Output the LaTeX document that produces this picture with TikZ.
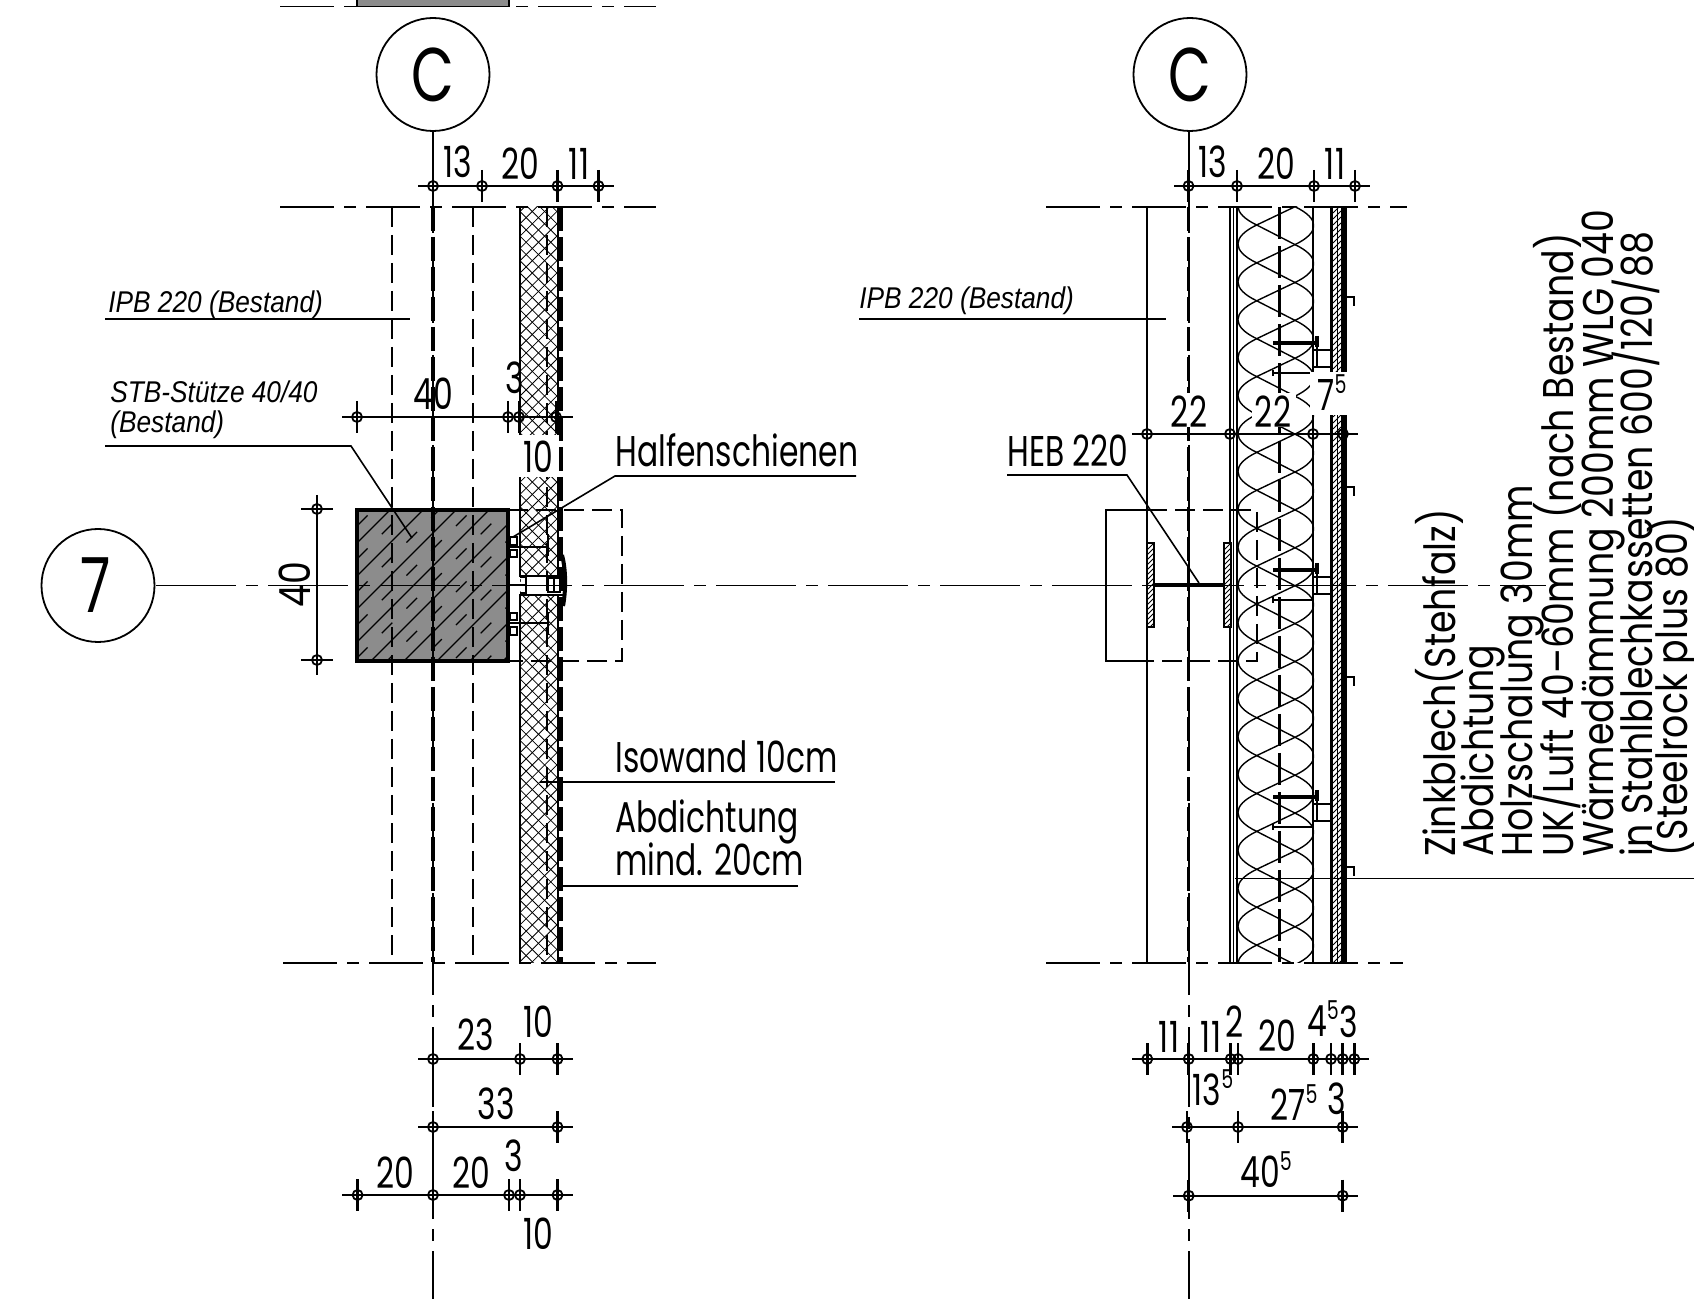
\documentclass[tikz,border=0pt]{standalone}
\usepackage{fontspec}
\newfontfamily\cadfont[FakeStretch=0.73]{Poppins}
\newfontfamily\sidefont[FakeStretch=0.845]{Poppins}
\newfontfamily\noteFont[FakeStretch=0.875,ItalicFont={Liberation Sans Italic}]{Liberation Sans}
\newcommand{\hoch}[1]{\raisebox{8.5pt}{\fontsize{13}{13}\selectfont #1}}
\newcommand{\dimrow}[4]{%
	\draw[dimline] (#1,#4) -- (#2,#4);
	\foreach \x in {#3} {
		\draw[dimtick] (\x,#4) ++(0,-16) -- ++(0,32);
		\draw[dimline] (\x,#4) circle (2.5pt) ++(-5,0) -- ++(10,0);
	}}
\tikzset{
	thinline/.style={line width=.8pt},
	dimline/.style={line width=.9pt},
	dimtick/.style={line width=1.3pt},
	cutline/.style={line width=.9pt,dash pattern=on 27pt off 5pt on 6pt off 5pt},
	axisline/.style={line width=.8pt,dash pattern=on 40pt off 5pt on 6pt off 5pt},
	hiddenline/.style={line width=.7pt,dash pattern=on 10pt off 4pt},
	heavydash/.style={line width=1.6pt,dash pattern=on 12pt off 3pt},
	label/.style={font=\cadfont\fontsize{21.5}{21}\selectfont,inner sep=0pt},
	note/.style={font=\noteFont\itshape\fontsize{15}{15}\selectfont,inner sep=0pt,align=left},
	sidelabel/.style={font=\sidefont\fontsize{21.5}{21}\selectfont,inner sep=0pt,rotate=90,anchor=base west},
	blank/.style={fill=white,inner sep=0pt},
	marker/.style={circle,draw,line width=.9pt,fill=white,minimum size=56.5pt,inner sep=0pt,font=\cadfont\fontsize{38}{38}\selectfont},
}
\begin{document}
\begin{tikzpicture}[x=.5pt,y=-.5pt]
	\useasboundingbox (0,0) rectangle (1694,1299);
	% top strip
	\draw[fill=black!45,thinline] (357,-5) rectangle (509,6.5);
	\draw[cutline] (280,6.5) -- (656,6.5);
	% concrete column
	\fill[black!45] (357,510) rectangle (508,661);
	\begin{scope}
		\clip (357,510) rectangle (508,661);
		\foreach \k in {0,...,9} {
			\draw[line width=.6pt] (357,510+33*\k) -- ++(320,-320);
			\draw[line width=.6pt,dash pattern=on 7.5pt off 10pt] (357,526+33*\k) -- ++(320,-320);
		}
	\end{scope}
	% left wall
	\begin{scope}
		\clip (520,207) rectangle (558,962);
		\foreach \k in {0,...,72} {
			\draw[line width=.4pt] (520,150+12.3*\k) -- ++(60,60);
			\draw[line width=.4pt] (520,150+12.3*\k) -- ++(60,-60);
		}
	\end{scope}
	\fill[white] (521,576) rectangle (563,594);
	\draw[line width=1.1pt] (520,207) -- (520,576) -- (563,576);
	\draw[line width=1.1pt] (520,962) -- (520,595) -- (563,595);
	\draw[line width=1.1pt] (558,207) -- (558,576) (558,595) -- (558,962);
	\draw[hiddenline] (547,207) -- (547,962);
	\draw[heavydash] (561,207) -- (561,962);
	\node[blank,minimum width=21pt,minimum height=21pt] (gapten) at (538,456) {};
	\node[label] (tenwall) at (538,457) {10};
	% column edges and outline
	\draw[hiddenline] (392,207) -- (392,962);
	\draw[hiddenline] (473,207) -- (473,962);
	\draw[line width=2pt] (357,510) rectangle (508,661);
	\draw[hiddenline] (508,510) -- (622,510) -- (622,661) -- (508,661);
	% anchors left
	\draw[line width=.8pt] (510,537) rectangle (517,545) (510,550) rectangle (517,557);
	\draw[line width=.8pt] (510,613) rectangle (517,620) (510,627) rectangle (517,635);
	\draw[line width=1.3pt] (510,547) -- (548,547);
	\draw[line width=1pt] (510,623) -- (548,623);
	\draw[line width=1.2pt] (548,534) -- (548,556) (548,612) -- (548,635);
	\draw[line width=1pt] (509,585) -- (526,585) (520,577) -- (526,577) -- (526,593) -- (520,593);
	\draw[line width=.8pt] (548,578) rectangle (560,592) (554,578) -- (554,592);
	\draw[line width=2pt] (562,555) .. controls (566,570) and (566,590) .. (563,606);
	% right side: layers
	\draw[line width=1.2pt] (1147,207) -- (1147,962);
	\draw[line width=1.1pt] (1230,207) -- (1230,962);
	\draw[line width=.6pt] (1233.5,207) -- (1233.5,962);
	\draw[line width=.8pt] (1236.7,207) -- (1236.7,962);
	\begin{scope}
		\clip (1238,207) rectangle (1314,962);
		\foreach \k in {-1,...,20} {
			\pgfmathsetmacro\yl{225+37.9*\k}
			\pgfmathsetmacro\yr{206.7+37.9*\k}
			\draw[line width=.7pt] (1256.7,\yl) .. controls (1231.7,\yl+12) and (1231.7,\yl+25.9) .. (1256.7,\yl+37.9);
			\draw[line width=.7pt] (1295,\yr) .. controls (1320,\yr+12) and (1320,\yr+25.9) .. (1295,\yr+37.9);
			\draw[line width=.7pt] (1295,\yr) -- (1256.7,\yl) -- (1295,\yr+37.9);
		}
	\end{scope}
	\draw[line width=.7pt] (1313,207) -- (1313,962);
	\draw[line width=1.5pt,dash pattern=on 16pt off 3.5pt] (1279,207) -- (1279,962);
	% cladding
	\draw[line width=1.2pt] (1331.5,207) -- (1331.5,962);
	\begin{scope}
		\clip (1333,207) rectangle (1341,962);
		\foreach \k in {0,...,130} {
			\draw[line width=.4pt] (1333,207+6*\k) -- ++(8,-8);
		}
	\end{scope}
	\draw[line width=.4pt] (1337,207) -- (1337,962);
	\draw[line width=3pt] (1343.5,207) -- (1343.5,962);
	\foreach \y in {297,487,677,867} {
		\draw[line width=1.4pt] (1346,\y) -- (1354,\y) -- (1354,\y+9);
	}
	\foreach \y in {343,570,797} {
		\draw[line width=1.8pt] (1273,\y) -- (1317,\y);
		\draw[line width=2pt] (1317,\y-7) -- (1317,\y+4);
		\draw[line width=.7pt] (1273,\y+30) -- (1313,\y+30);
		\draw[line width=1pt] (1273,\y+27) -- (1273,\y+33);
		\draw[line width=.9pt] (1314,\y+7) -- (1330,\y+7) (1314,\y+24) -- (1330,\y+24) (1317,\y) -- (1317,\y+24);
	}
	% steel profile
	\draw[line width=.9pt] (1147,510) -- (1106,510) -- (1106,661) -- (1147,661);
	\draw[hiddenline] (1147,510) -- (1257,510) -- (1257,661) -- (1147,661);
	\foreach \x in {1147,1224} {
		\draw[line width=1pt,fill=white] (\x,543) rectangle ++(7,84);
		\begin{scope}
			\clip (\x,543) rectangle ++(7,84);
			\foreach \k in {0,...,16} {
				\draw[line width=.5pt] (\x,550+5*\k) -- ++(8,-8);
			}
		\end{scope}
	}
	\draw[line width=2pt] (1154,585) -- (1224,585);
	% axis lines
	\draw[axisline] (156,585.5) -- (1546,585.5);
	\draw[cutline] (280,207) -- (656,207);
	\draw[cutline] (283,962.6) -- (656,962.6);
	\draw[cutline] (1046,207) -- (1407,207);
	\draw[cutline] (1046,962.6) -- (1403,962.6);
	\draw[heavydash] (433,207) -- (433,962);
	\draw[heavydash] (1188.7,207) -- (1188.7,962);
	\draw[axisline] (433,131) -- (433,1299);
	\draw[axisline] (1188.7,131) -- (1188.7,1299);
	% markers
	\node[marker] (markC) at (433,74.5) {C};
	\node[marker] (markCC) at (1190,74.5) {C};
	\node[marker] (markseven) at (98,585.5) {\kern-2pt 7};
	% notes
	\node[note,anchor=south west] (noteipb) at (108,319) {IPB 220 (Bestand)};
	\draw[thinline] (105,319) -- (409.5,319);
	\node[note,anchor=south west] (noteipbb) at (859,315) {IPB 220 (Bestand)};
	\draw[thinline] (859,319) -- (1166,319);
	\node[note,anchor=base west] (notestb) at (110,403) {STB-Stütze 40/40};
	\node[note,anchor=base west] (notebest) at (110,433) {(Bestand)};
	\draw[thinline] (105,446) -- (351,446) -- (412,538);
	\node[label,anchor=base west] (halfen) at (615,467) {Halfenschienen};
	\draw[thinline] (856,476) -- (615,476) -- (513,537);
	\node[label,anchor=base west] (isowand) at (615,772) {Isowand 10cm};
	\draw[thinline] (835,782) -- (540,782);
	\node[label,anchor=base west] (abdicht) at (615,833) {Abdichtung};
	\node[label,anchor=base west] (mind) at (615,875) {mind. 20cm};
	\draw[thinline] (798,886) -- (562,886);
	\node[label,anchor=base west] (heb) at (1007,467) {HEB 220};
	\draw[thinline] (1007,475) -- (1127,475) -- (1199,583);
	\draw[thinline] (1235,878.6) -- (1694,878.6);
	\foreach \x/\t in {1455/{Zinkblech(Stehfalz)},1493/{Abdichtung},1532/{Holzschalung 30mm},1573/{UK/Luft 40–60mm (nach Bestand)},1613/{Wärmedämmung 200mm WLG 040},1652/{in Stahlblechkassetten 600/120/88},1687/{(Steelrock plus 80)}} {
		\node[sidelabel] at (\x,857) {\t};
	}
	% dimensions left
	\dimrow{418}{614}{433,482,557.5,598.5}{186}
	\node[label] (lt) at (458,162) {13};
	\node[label] (lu) at (520,164) {20};
	\node[label] (lv) at (579,164) {11};
	\dimrow{342}{573}{357,508,519,556}{417}
	\node[label] (lw) at (433,394) {40};
	\node[label] (lx) at (515,378) {3};
	\draw[dimline] (317,495) -- (317,675);
	\foreach \y in {509,660} {
		\draw[dimtick] (301,\y) -- (333,\y);
		\draw[dimline] (317,\y) circle (2.5pt);
	}
	\node[label,font=\sidefont\fontsize{21.5}{21}\selectfont,rotate=90] (ly) at (295,585) {40};
	\dimrow{418}{573}{433,520,557.5}{1059}
	\node[label] (la) at (476,1035) {23};
	\node[label] (lb) at (538,1022) {10};
	\dimrow{418}{573}{433,557.5}{1127}
	\node[label] (lc) at (496,1104) {33};
	\dimrow{342}{573}{357.6,433,509,520,557.5}{1195}
	\node[label] (ld) at (395,1173) {20};
	\node[label] (le) at (471,1173) {20};
	\node[label] (lf) at (514,1156) {3};
	\node[label] (lg) at (538,1234) {10};
	% dimensions right
	\dimrow{1174}{1370}{1188.5,1237,1314,1355}{186}
	\node[label] (rt) at (1213,162) {13};
	\node[label] (ru) at (1276,164) {20};
	\node[label] (rv) at (1335,164) {11};
	\node[blank,minimum width=19pt,minimum height=21.5pt] (gapseven) at (1329,393.5) {};
	\node[blank,minimum width=22pt,minimum height=17pt] (gaptwo) at (1274,410) {};
	\node[blank,minimum width=20pt,minimum height=17pt] (gapone) at (1189,410) {};
	\node[label] (rw) at (1189,412) {22};
	\node[label] (rx) at (1273,412) {22};
	\node[label] (ry) at (1332,393) {7\hoch{5}};
	\dimrow{1132}{1358}{1147,1230,1313,1343}{434}
	\dimrow{1132}{1369}{1147.3,1188.7,1230.7,1238,1313.3,1331,1342.7,1354.3}{1059}
	\node[label] (ra) at (1169,1037) {11};
	\node[label] (rb) at (1211,1037) {11};
	\node[label] (rc) at (1235,1022) {2};
	\node[label] (rd) at (1277,1036) {20};
	\node[label] (re) at (1323,1019) {4\hoch{5}};
	\node[label] (rf) at (1349,1022) {3};
	\node[label] (rg) at (1213,1088) {13\hoch{5}};
	\node[label] (rh) at (1294,1103) {27\hoch{5}};
	\node[label] (ri) at (1337,1099) {3};
	\dimrow{1172}{1358}{1187,1238,1342.7}{1127}
	\dimrow{1173}{1358}{1188.7,1342.7}{1195.7}
	\node[label] (rj) at (1266,1170) {40\hoch{5}};
\end{tikzpicture}
\end{document}
